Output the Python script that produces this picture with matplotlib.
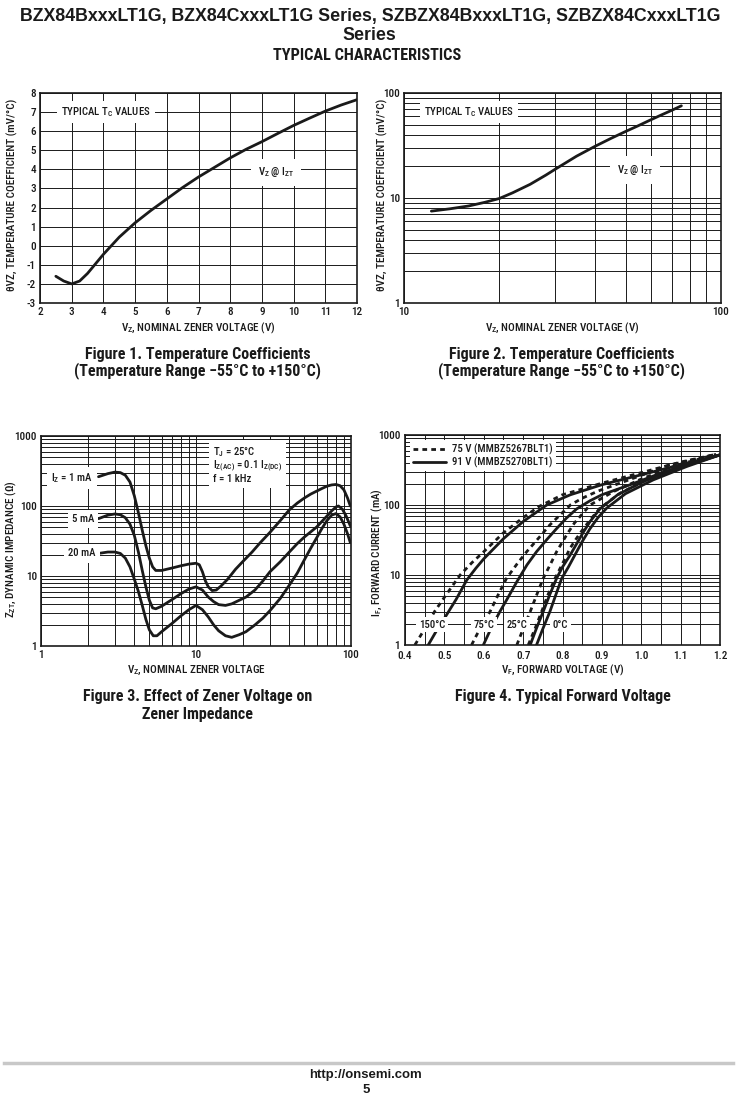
import matplotlib
matplotlib.use("Agg")
import matplotlib.pyplot as plt
from matplotlib import font_manager as fm
from matplotlib.ticker import FixedLocator, NullFormatter, MultipleLocator, LogLocator, FuncFormatter
from matplotlib.lines import Line2D

# ---- font choice: a narrow sans if one is installed, else Liberation Sans ----
_names = {f.name for f in fm.fontManager.ttflist}
_narrow = [n for n in ['Liberation Sans Narrow', 'Arial Narrow', 'Roboto Condensed',
                       'Open Sans Condensed', 'Nimbus Sans Narrow'] if n in _names]
if _narrow:
    FONT = _narrow[0]
    STRETCH = 'normal'
elif any(f.name == 'DejaVu Sans' and f.stretch in ('condensed', 'semi-condensed')
         for f in fm.fontManager.ttflist):
    FONT = 'DejaVu Sans'
    STRETCH = 'condensed'
else:
    FONT = 'Liberation Sans'
    STRETCH = 'normal'
plt.rcParams['font.family'] = [FONT, 'DejaVu Sans']
plt.rcParams['font.stretch'] = STRETCH
plt.rcParams['font.weight'] = 'medium'
plt.rcParams['axes.labelweight'] = 'medium'
plt.rcParams['axes.unicode_minus'] = False
WIDE = ['Liberation Sans', 'DejaVu Sans']

INK = '#1a1a1a'

# ---------------- Figure 1 data ----------------
f1_vz = [2.5, 2.75, 3.0, 3.25, 3.5, 3.75, 4.0, 4.5, 5.0, 5.5, 6.0, 6.5, 7.0, 7.5,
         8.0, 8.5, 9.0, 9.5, 10.0, 10.5, 11.0, 11.5, 12.0]
f1_tc = [-1.6, -1.85, -2.0, -1.85, -1.45, -0.95, -0.45, 0.45, 1.2, 1.85, 2.45, 3.05,
         3.6, 4.1, 4.6, 5.05, 5.45, 5.88, 6.3, 6.68, 7.05, 7.37, 7.65]

# ---------------- Figure 2 data ----------------
f2_vz = [12.2, 14, 16, 18, 20, 22, 25, 28, 30, 35, 40, 45, 50, 55, 60, 65, 70, 75]
f2_tc = [7.5, 7.9, 8.4, 9.1, 9.9, 11.2, 13.5, 16.5, 18.8, 25, 31, 37, 43, 49, 55.5,
         62, 68.5, 75.5]

# ---------------- Figure 3 data ----------------
f3_vz_1mA = [2.35, 2.7, 3.0, 3.25, 3.5, 3.75, 4.0, 4.25, 4.5, 4.75, 5.0, 5.25, 5.5, 6.0,
             7.0, 8.0, 9.0, 10.0, 10.5, 11.0, 11.5, 12.0, 12.7, 13.5, 14.5, 16, 18, 20,
             23, 26, 30, 35, 40, 45, 50, 55, 60, 65, 70, 75, 80, 85, 90, 95, 99]
f3_z_1mA = [262, 290, 305, 300, 275, 220, 140, 80, 45, 27, 18, 13.5, 12.0, 12.0,
            13.0, 14.0, 14.8, 15.2, 14.5, 11.5, 8.5, 7.0, 6.2, 6.3, 7.2, 9.0, 12.5, 16,
            22, 30, 42, 62, 88, 110, 130, 148, 163, 178, 192, 200, 203, 195, 170, 130, 100]

f3_vz_5mA = [2.35, 2.7, 3.0, 3.25, 3.5, 3.75, 4.0, 4.25, 4.5, 4.75, 5.0, 5.25, 5.5, 6.0,
             7.0, 8.0, 9.0, 10.0, 11.0, 12.0, 13.0, 14.0, 15.5, 17, 19, 21, 24, 27,
             30, 35, 40, 45, 50, 60, 70, 75, 80, 83, 88, 93, 99]
f3_z_5mA = [66, 74, 77, 75, 68, 55, 38, 22, 12, 7, 4.5, 3.5, 3.4, 3.7,
            4.6, 5.6, 6.5, 7.0, 6.3, 5.0, 4.3, 3.9, 3.8, 4.0, 4.5, 5.0, 6.3, 8.5,
            11.5, 16, 22, 29, 36, 50, 72, 85, 97, 100, 90, 72, 52]

f3_vz_20mA = [2.35, 2.7, 3.0, 3.25, 3.5, 3.75, 4.0, 4.25, 4.5, 4.75, 5.0, 5.3, 5.6, 6.0,
              7.0, 8.0, 9.0, 10.0, 11.0, 12.0, 13.0, 14.0, 15.5, 17, 19, 21, 24, 27,
              30, 35, 40, 45, 50, 55, 60, 65, 70, 75, 80, 85, 90, 95, 99]
f3_z_20mA = [21, 22, 22, 21, 18, 13.5, 9, 6, 3.8, 2.4, 1.7, 1.4, 1.4, 1.6,
             2.1, 2.7, 3.3, 3.8, 3.3, 2.6, 2.0, 1.65, 1.4, 1.33, 1.45, 1.6, 2.0, 2.5,
             3.2, 4.8, 7.4, 11, 17, 25, 35, 48, 62, 74, 78, 70, 55, 40, 30]

# ---------------- Figure 4 data ----------------
f4_v_150s = [0.459, 0.48, 0.502, 0.53, 0.557, 0.58, 0.60, 0.65, 0.70, 0.76, 0.82, 0.90, 1.00, 1.10, 1.20]
f4_i_150s = [1, 1.6, 2.5, 4.5, 8.5, 12.5, 17, 33, 58, 100, 140, 195, 270, 375, 520]
f4_v_150d = [0.425, 0.45, 0.475, 0.50, 0.54, 0.57, 0.60, 0.65, 0.70, 0.74, 0.80, 0.90, 1.00, 1.10, 1.19]
f4_i_150d = [1, 1.7, 3, 4.8, 10, 15, 21.5, 40, 66, 95, 140, 205, 290, 410, 530]

f4_v_75s = [0.599, 0.62, 0.641, 0.66, 0.684, 0.71, 0.734, 0.76, 0.785, 0.81, 0.836, 0.87, 0.90, 0.97, 1.06, 1.20]
f4_i_75s = [1, 1.8, 3, 4.6, 8, 14, 21.5, 32, 46, 65, 88, 115, 140, 193, 300, 520]
f4_v_75d = [0.569, 0.59, 0.616, 0.635, 0.658, 0.685, 0.709, 0.74, 0.768, 0.80, 0.82, 0.85, 0.89, 0.97, 1.07, 1.19]
f4_i_75d = [1, 1.7, 3, 5, 9, 14.5, 21.5, 34, 52, 78, 100, 125, 158, 230, 370, 530]

f4_v_25s = [0.718, 0.735, 0.751, 0.768, 0.785, 0.80, 0.82, 0.853, 0.87, 0.895, 0.94, 1.00, 1.09, 1.20]
f4_i_25s = [1, 1.8, 3, 5.3, 8.95, 13, 19.5, 41, 58, 88, 140, 210, 335, 520]
f4_v_25d = [0.684, 0.70, 0.718, 0.735, 0.751, 0.77, 0.785, 0.81, 0.83, 0.87, 0.93, 1.00, 1.09, 1.19]
f4_i_25d = [1, 1.7, 3, 5.3, 8.95, 14.5, 21.5, 37, 55, 100, 156, 235, 370, 530]

f4_v_0s = [0.734, 0.75, 0.768, 0.783, 0.798, 0.815, 0.836, 0.85, 0.87, 0.89, 0.912, 0.96, 1.03, 1.115, 1.20]
f4_i_0s = [1, 1.7, 3, 5.2, 8.95, 13, 21.5, 30, 46, 66, 90, 145, 228, 354, 520]
f4_v_0d = [0.713, 0.73, 0.747, 0.763, 0.781, 0.80, 0.819, 0.835, 0.853, 0.875, 0.895, 0.946, 1.022, 1.115, 1.19]
f4_i_0d = [1, 1.7, 3, 5.2, 8.95, 14.5, 24, 33, 46, 66, 90, 147, 241, 372, 530]

temp_labels = ['150°C', '75°C', '25°C', '0°C']
temp_label_x = [0.468, 0.601, 0.684, 0.795]
legend_labels = ['75 V (MMBZ5267BLT1)', '91 V (MMBZ5270BLT1)']

W, H = 737, 1110
fig = plt.figure(figsize=(W / 100, H / 100), dpi=100)


def ax_at(l, t, r, b):
    return fig.add_axes([l / W, 1 - b / H, (r - l) / W, (b - t) / H])


def style(ax):
    for s in ax.spines.values():
        s.set_linewidth(1.2)
        s.set_color(INK)
    ax.tick_params(which='both', length=0, labelsize=8, colors=INK, pad=3)
    ax.set_axisbelow(True)


GRID = dict(color=INK, linewidth=0.7)
CURVE = dict(color=INK, linewidth=2.0, solid_capstyle='round')
LAB = 8
inner_texts = []
axis_labels = []


def wbox(p):
    return dict(facecolor='white', edgecolor='none', pad=p)


def set_labels(ax, xl, yl, xpos, ypos):
    ax.set_xlabel(xl, fontsize=LAB, color=INK)
    ax.set_ylabel(yl, fontsize=LAB, color=INK)
    ax.xaxis.set_label_coords(*xpos)
    ax.yaxis.set_label_coords(*ypos)
    ax.xaxis.label.set_va('center')
    ax.yaxis.label.set_va('center')
    axis_labels.extend([ax.xaxis.label, ax.yaxis.label])


fmt = FuncFormatter(lambda v, p: '%g' % v)


def logaxis(axis, majors):
    axis.set_major_locator(FixedLocator(majors))
    axis.set_minor_locator(LogLocator(base=10, subs=range(2, 10)))
    axis.set_major_formatter(fmt)
    axis.set_minor_formatter(NullFormatter())


# ---------- Figure 1 ----------
ax1 = ax_at(40, 93, 357, 303)
style(ax1)
ax1.set_xlim(2, 12)
ax1.set_ylim(-3, 8)
ax1.xaxis.set_major_locator(MultipleLocator(1))
ax1.yaxis.set_major_locator(MultipleLocator(1))
ax1.grid(True, which='major', **GRID)
ax1.plot(f1_vz, f1_tc, **CURVE)
t_typ1 = ax1.text(4.08, 7.0, 'TYPICAL T$_\\mathregular{C}$ VALUES', fontsize=LAB, ha='center', va='center',
                  color=INK, bbox=wbox(3), zorder=5)
inner_texts.append(t_typ1)
inner_texts.append(ax1.text(9.45, 3.85, 'V$_\\mathregular{Z}$ @ I$_\\mathregular{ZT}$', fontsize=LAB,
                            ha='center', va='center', color=INK, bbox=wbox(5), zorder=5))
set_labels(ax1, 'V$_\\mathregular{Z}$, NOMINAL ZENER VOLTAGE (V)',
           'θVZ, TEMPERATURE COEFFICIENT (mV/°C)', (0.5, -0.119), (-0.088, 0.514))

# ---------- Figure 2 ----------
ax2 = ax_at(404, 93, 721, 303)
style(ax2)
ax2.set_xscale('log')
ax2.set_yscale('log')
ax2.set_xlim(10, 100)
ax2.set_ylim(1, 100)
logaxis(ax2.xaxis, [10, 100])
logaxis(ax2.yaxis, [1, 10, 100])
ax2.grid(True, which='both', **GRID)
ax2.plot(f2_vz, f2_tc, **CURVE)
inner_texts.append(ax2.text(16.0, 66, 'TYPICAL T$_\\mathregular{C}$ VALUES', fontsize=LAB, ha='center',
                            va='center', color=INK, bbox=wbox(3), zorder=5))
inner_texts.append(ax2.text(53.5, 18.5, 'V$_\\mathregular{Z}$ @ I$_\\mathregular{ZT}$', fontsize=LAB,
                            ha='center', va='center', color=INK, bbox=wbox(5), zorder=5))
set_labels(ax2, 'V$_\\mathregular{Z}$, NOMINAL ZENER VOLTAGE (V)',
           'θVZ, TEMPERATURE COEFFICIENT (mV/°C)', (0.5, -0.119), (-0.069, 0.514))

# ---------- Figure 3 ----------
ax3 = ax_at(41, 436, 351, 646)
style(ax3)
ax3.set_xscale('log')
ax3.set_yscale('log')
ax3.set_xlim(1, 100)
ax3.set_ylim(1, 1000)
logaxis(ax3.xaxis, [1, 10, 100])
logaxis(ax3.yaxis, [1, 10, 100, 1000])
ax3.grid(True, which='both', **GRID)
ax3.plot(f3_vz_1mA, f3_z_1mA, **CURVE)
ax3.plot(f3_vz_5mA, f3_z_5mA, **CURVE)
ax3.plot(f3_vz_20mA, f3_z_20mA, **CURVE)
inner_texts.append(ax3.text(2.15, 252, 'I$_\\mathregular{Z}$ = 1 mA', fontsize=LAB, ha='right',
                            va='center', color=INK, bbox=wbox(3), zorder=5))
inner_texts.append(ax3.text(2.2, 66, '5 mA', fontsize=LAB, ha='right', va='center', color=INK,
                            bbox=wbox(3), zorder=5))
inner_texts.append(ax3.text(2.25, 21, '20 mA', fontsize=LAB, ha='right', va='center', color=INK,
                            bbox=wbox(3), zorder=5))
inner_texts.append(ax3.text(0.555, 0.955,
                            'T$_\\mathregular{J}$ = 25°C\nI$_\\mathregular{Z(AC)}$ = 0.1 I$_\\mathregular{Z(DC)}$\nf = 1 kHz',
                            transform=ax3.transAxes, fontsize=LAB, ha='left', va='top', color=INK,
                            linespacing=1.0, bbox=wbox(3), zorder=5))
set_labels(ax3, 'V$_\\mathregular{Z}$, NOMINAL ZENER VOLTAGE',
           'Z$_\\mathregular{ZT}$, DYNAMIC IMPEDANCE (Ω)', (0.5, -0.114), (-0.094, 0.46))

# ---------- Figure 4 ----------
ax4 = ax_at(405, 435, 720, 645)
style(ax4)
ax4.set_yscale('log')
ax4.set_xlim(0.4, 1.2)
ax4.set_ylim(1, 1000)
ax4.xaxis.set_major_locator(MultipleLocator(0.1))
ax4.xaxis.set_minor_locator(MultipleLocator(0.05))
ax4.xaxis.set_major_formatter(FuncFormatter(lambda v, p: '%.1f' % v))
logaxis(ax4.yaxis, [1, 10, 100, 1000])
ax4.grid(True, which='both', **GRID)
DASH = dict(color=INK, linewidth=2.0, linestyle=(0, (1.7, 1.5)))
for vs, is_, vd, id_ in [(f4_v_150s, f4_i_150s, f4_v_150d, f4_i_150d),
                         (f4_v_75s, f4_i_75s, f4_v_75d, f4_i_75d),
                         (f4_v_25s, f4_i_25s, f4_v_25d, f4_i_25d),
                         (f4_v_0s, f4_i_0s, f4_v_0d, f4_i_0d)]:
    ax4.plot(vs, is_, **CURVE)
    ax4.plot(vd, id_, **DASH)
for lab, lx in zip(temp_labels, temp_label_x):
    inner_texts.append(ax4.text(lx, 1.95, lab, fontsize=LAB, ha='center', va='center', color=INK,
                                bbox=wbox(2), zorder=5))
handles = [Line2D([], [], **DASH), Line2D([], [], **CURVE)]
leg = ax4.legend(handles, legend_labels, loc='upper left', bbox_to_anchor=(0.015, 0.975),
                 fontsize=LAB, frameon=True, fancybox=False, framealpha=1, edgecolor='none',
                 handlelength=3.0, handletextpad=0.5, borderpad=0.3, labelspacing=0.15,
                 borderaxespad=0)
leg.set_zorder(6)
for t in leg.get_texts():
    t.set_color(INK)
    inner_texts.append(t)
set_labels(ax4, 'V$_\\mathregular{F}$, FORWARD VOLTAGE (V)',
           'I$_\\mathregular{F}$, FORWARD CURRENT (mA)', (0.5, -0.119), (-0.086, 0.44))

# ---------- Page texts ----------
def ftext(x, y, s, size, **kw):
    return fig.text(x / W, 1 - y / H, s, ha='center', va='center', color=INK, fontsize=size,
                    fontweight='bold', **kw)

title1 = ftext(370, 16, 'BZX84BxxxLT1G, BZX84CxxxLT1G Series, SZBZX84BxxxLT1G, SZBZX84CxxxLT1G', 13,
               family=WIDE)
title2 = ftext(369, 35, 'Series', 13, family=WIDE)
sub = ftext(367, 55, 'TYPICAL CHARACTERISTICS', 10)
caps = [ftext(198, 354, 'Figure 1. Temperature Coefficients', 10),
        ftext(198, 371, '(Temperature Range \u221255°C to +150°C)', 10),
        ftext(562, 354, 'Figure 2. Temperature Coefficients', 10),
        ftext(562, 371, '(Temperature Range \u221255°C to +150°C)', 10),
        ftext(198, 697, 'Figure 3. Effect of Zener Voltage on', 10),
        ftext(198, 714, 'Zener Impedance', 10),
        ftext(563, 697, 'Figure 4. Typical Forward Voltage', 10)]

fig.add_artist(Line2D([0.005, 0.995], [1 - 1062.5 / H, 1 - 1062.5 / H], color='#c8c8c8',
                      linewidth=2.5, transform=fig.transFigure))
foot1 = ftext(366, 1075, 'http://onsemi.com', 8.5, family=WIDE)
foot2 = ftext(366, 1090, '5', 8.5, family=WIDE)

# ---------- fit font sizes to the widths measured on the reference ----------
fig.canvas.draw()
R = fig.canvas.get_renderer()


def fit(ref, target, group, vertical=False):
    bb = ref.get_window_extent(R)
    w = bb.height if vertical else bb.width
    s = target / w
    for a in group:
        a.set_fontsize(a.get_fontsize() * s)
    return s


fit(title1, 697, [title1, title2])
fit(sub, 189, [sub])
fit(caps[0], 225, caps)
fit(foot1, 113, [foot1, foot2])
fit(axis_labels[0], 156, axis_labels)
fit(t_typ1, 90, inner_texts)

# tick labels: "1000" about 22.5 px wide
tl = [t for t in ax3.get_yticklabels() if t.get_text() == '1000'][0]
tick_size = 8 * 22.5 / tl.get_window_extent(R).width
for ax in (ax1, ax2, ax3, ax4):
    ax.tick_params(labelsize=tick_size)
ax4.tick_params(axis='x', pad=4.2)
ax4.tick_params(axis='y', pad=3.5)

fig.savefig('out.png', dpi=100, facecolor='white')
